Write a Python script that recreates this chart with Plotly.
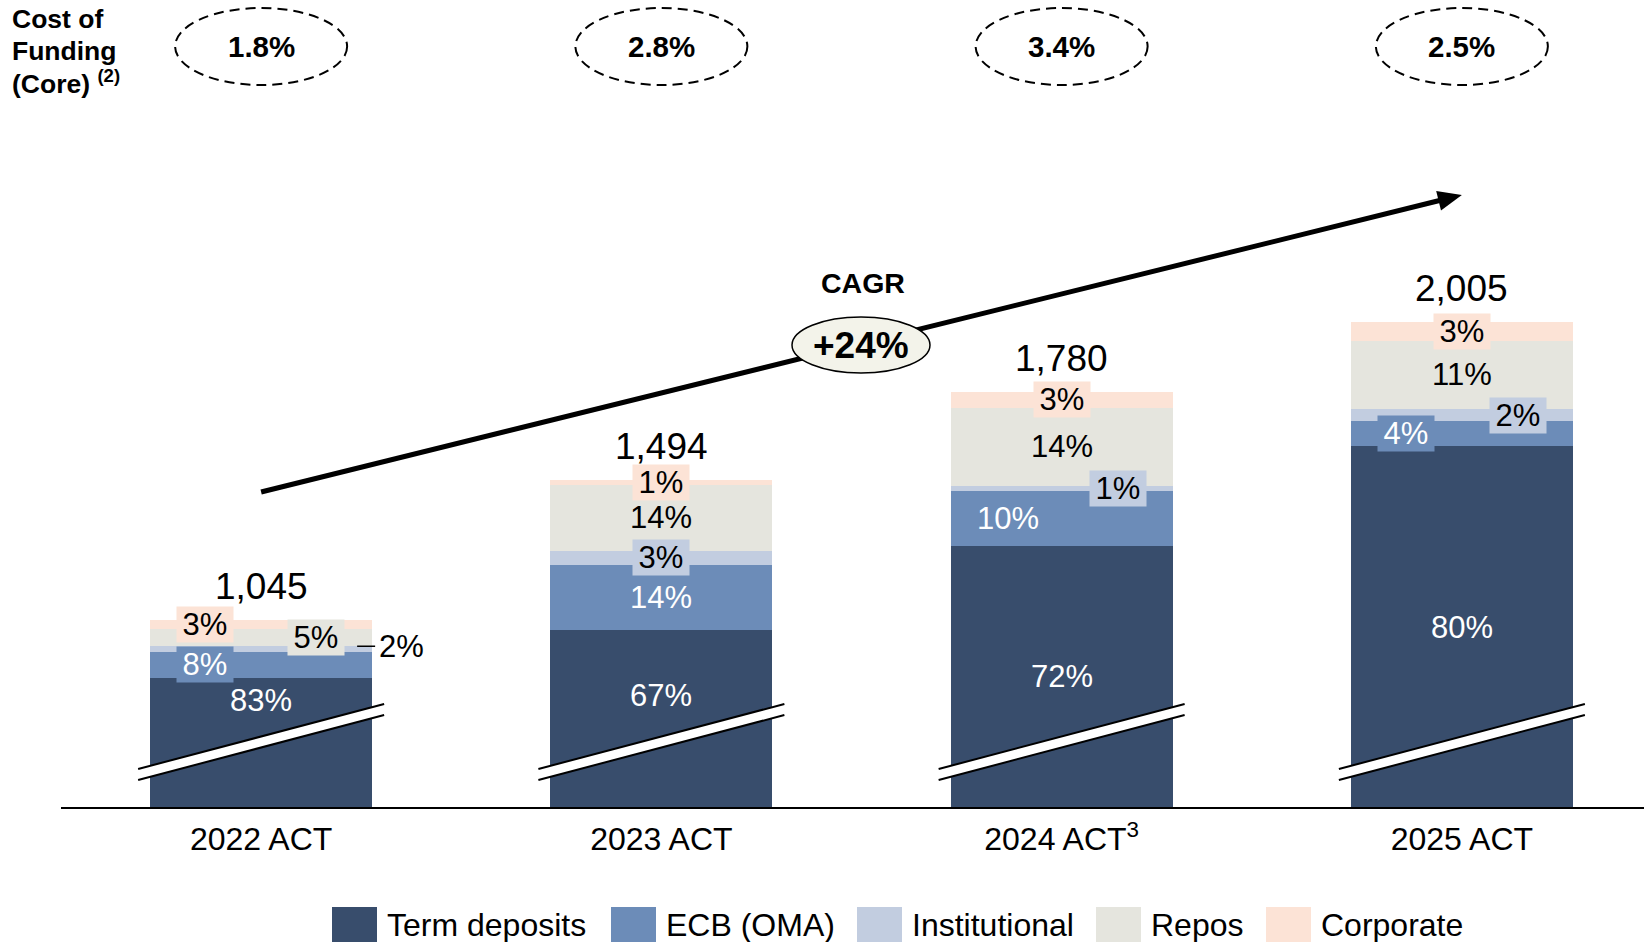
import math
import plotly.graph_objects as go

# ---------------- data ----------------
categories = ["2022 ACT", "2023 ACT", "2024 ACT<sup>3</sup>", "2025 ACT"]
totals = [1045, 1494, 1780, 2005]
series_names = ["Term deposits", "ECB (OMA)", "Institutional", "Repos", "Corporate"]
term_deposits_pct = [83, 67, 72, 80]
ecb_oma_pct = [8, 14, 10, 4]
institutional_pct = [2, 3, 1, 2]
repos_pct = [5, 14, 14, 11]
corporate_pct = [3, 1, 3, 3]
cost_of_funding = ["1.8%", "2.8%", "3.4%", "2.5%"]
cagr_text = "+24%"

# ---------------- style / layout ----------------
W, H = 1644, 942
FONT = "Liberation Sans, Arial, sans-serif"
colors = ["#384D6C", "#6C8CB8", "#C2CDE0", "#E5E5DE", "#FCE3D6"]
label_colors = ["white", "white", "black", "black", "black"]
AXIS_BREAK = 442              # broken axis: value shown at the baseline
PLOT_BOTTOM_PX = 807
PX_PER_UNIT = 0.3104
X_RANGE = [-0.5, 3.455]
X_DOM_PX = (61, W)
BAR_WIDTH = 0.555
SEG_FONT = 31

DX = (X_RANGE[1] - X_RANGE[0]) / (X_DOM_PX[1] - X_DOM_PX[0])  # data units per px


def xp(px):
    return px / W


def yp(py):
    return 1 - py / H


def cx_px(i):
    return X_DOM_PX[0] + (i - X_RANGE[0]) / DX


shares = [term_deposits_pct, ecb_oma_pct, institutional_pct, repos_pct, corporate_pct]
n = len(totals)
seg_values = []
for s in range(5):
    seg_values.append([totals[i] * shares[s][i] / sum(sh[i] for sh in shares) for i in range(n)])

fig = go.Figure()
xs = list(range(n))
for s in range(5):
    fig.add_trace(go.Bar(
        x=xs, y=seg_values[s], name=series_names[s], width=BAR_WIDTH,
        marker=dict(color=colors[s], line=dict(width=0)),
        hoverinfo="skip",
    ))

annotations = []
shapes = []

# ----- segment labels -----
label_dx = {1: [-56, 0, -54, -56], 2: [None, 0, 56, 56], 3: [55, 0, 0, 0], 4: [-56, 0, 0, 0]}
label_bg = {1: [True, False, False, True], 2: [False, True, True, True],
            3: [True, False, False, False], 4: [True, True, True, True]}
td_label_px = [700, 695, 676, 627]

for i in range(n):
    # term deposits label (above the axis break)
    annotations.append(dict(
        x=i, xref="x", y=yp(td_label_px[i]), yref="paper", text=f"{term_deposits_pct[i]}%",
        showarrow=False, xanchor="center", yanchor="middle",
        font=dict(family=FONT, size=SEG_FONT, color=label_colors[0])))
    base = seg_values[0][i]
    for s in range(1, 5):
        v = seg_values[s][i]
        mid = base + v / 2
        base += v
        txt = f"{shares[s][i]}%"
        off = label_dx[s][i]
        if off is None:
            # leader line label outside the bar
            shapes.append(dict(type="line", xref="x", yref="y",
                               x0=i + 96 * DX, x1=i + 114 * DX, y0=mid + 8, y1=mid + 8,
                               line=dict(color="black", width=1.5), layer="above"))
            annotations.append(dict(
                x=i, xref="x", y=mid + 8, yref="y", xshift=116, text=txt, showarrow=False,
                xanchor="left", yanchor="middle",
                font=dict(family=FONT, size=SEG_FONT, color="black")))
            continue
        a = dict(x=i, xref="x", y=mid, yref="y", xshift=off, text=txt, showarrow=False,
                 xanchor="center", yanchor="middle",
                 font=dict(family=FONT, size=SEG_FONT, color=label_colors[s]))
        if label_bg[s][i]:
            a.update(bgcolor=colors[s], width=56, height=35, borderpad=0)
        annotations.append(a)
    # totals
    annotations.append(dict(
        x=i, xref="x", y=totals[i], yref="y", text=f"{totals[i]:,}", showarrow=False,
        xanchor="center", yanchor="bottom", yshift=11,
        font=dict(family=FONT, size=37, color="black")))

    # axis-break marks
    xl, xr = i - 123 * DX, i + 123 * DX
    shapes.append(dict(type="path", xref="x", yref="paper",
                       path=f"M{xl},{yp(769)} L{xr},{yp(704)} L{xr},{yp(715)} L{xl},{yp(780)} Z",
                       fillcolor="white", line=dict(width=0), layer="above"))
    for (a0, a1) in [(769, 704), (780, 715)]:
        shapes.append(dict(type="line", xref="x", yref="paper", x0=xl, x1=xr,
                           y0=yp(a0), y1=yp(a1), line=dict(color="black", width=2), layer="above"))

    # cost of funding dashed ellipses
    shapes.append(dict(type="circle", xref="x", yref="paper",
                       x0=i - 86 * DX, x1=i + 86 * DX, y0=yp(85), y1=yp(8),
                       line=dict(color="black", width=2, dash="10px,6px"), layer="above"))
    annotations.append(dict(
        x=i, xref="x", y=yp(47), yref="paper", text=f"<b>{cost_of_funding[i]}</b>",
        showarrow=False, xanchor="center", yanchor="middle",
        font=dict(family=FONT, size=29.5, color="black")))

# ----- left title -----
for txt, py in [("<b>Cost of</b>", 19), ("<b>Funding</b>", 51), ("<b>(Core)</b> <b><sup>(2)</sup></b>", 82)]:
    annotations.append(dict(x=xp(10), xref="paper", y=yp(py), yref="paper", text=txt,
                            showarrow=False, xanchor="left", yanchor="middle",
                            font=dict(family=FONT, size=26.5, color="black")))

# ----- CAGR arrow -----
tip = (cx_px(3), 195.0)
tail = (cx_px(0), 492.0)
dxp, dyp = tip[0] - tail[0], tip[1] - tail[1]
L = math.hypot(dxp, dyp)
ux, uy = dxp / L, dyp / L
nx, ny = -uy, ux
head_len, head_half = 24, 10
bx, by = tip[0] - head_len * ux, tip[1] - head_len * uy
shapes.append(dict(type="line", xref="paper", yref="paper",
                   x0=xp(tail[0]), y0=yp(tail[1]), x1=xp(bx + 2 * ux), y1=yp(by + 2 * uy),
                   line=dict(color="black", width=5), layer="above"))
shapes.append(dict(type="path", xref="paper", yref="paper",
                   path=(f"M{xp(tip[0])},{yp(tip[1])} L{xp(bx + head_half * nx)},{yp(by + head_half * ny)} "
                         f"L{xp(bx - head_half * nx)},{yp(by - head_half * ny)} Z"),
                   fillcolor="black", line=dict(width=0), layer="above"))
# CAGR ellipse
shapes.append(dict(type="circle", xref="paper", yref="paper",
                   x0=xp(792), x1=xp(930), y0=yp(373), y1=yp(317),
                   fillcolor="#F3F3EA", line=dict(color="black", width=1.5), layer="above"))
annotations.append(dict(x=xp(861), xref="paper", y=yp(345), yref="paper", text=f"<b>{cagr_text}</b>",
                        showarrow=False, xanchor="center", yanchor="middle",
                        font=dict(family=FONT, size=37, color="black")))
annotations.append(dict(x=xp(863), xref="paper", y=yp(283), yref="paper", text="<b>CAGR</b>",
                        showarrow=False, xanchor="center", yanchor="middle",
                        font=dict(family=FONT, size=28.5, color="black")))

# ----- legend (large swatches) -----
legend_x = [332, 611, 857, 1096, 1266]
for s in range(5):
    shapes.append(dict(type="rect", xref="paper", yref="paper",
                       x0=xp(legend_x[s]), x1=xp(legend_x[s] + 45), y0=yp(907), y1=yp(946),
                       fillcolor=colors[s], line=dict(width=0), layer="above"))
    annotations.append(dict(x=xp(legend_x[s] + 53), xref="paper", y=yp(925), yref="paper",
                            text=series_names[s], showarrow=False, xanchor="left", yanchor="middle",
                            font=dict(family=FONT, size=32, color="black")))

fig.update_layout(
    width=W, height=H, autosize=False,
    margin=dict(l=0, r=0, t=0, b=0, pad=0),
    paper_bgcolor="white", plot_bgcolor="white",
    barmode="stack", bargap=0, showlegend=False,
    font=dict(family=FONT, color="black"),
    xaxis=dict(domain=[xp(X_DOM_PX[0]), 1], range=X_RANGE, tickmode="array",
               tickvals=xs, ticktext=categories, showgrid=False, zeroline=False,
               showline=True, linecolor="black", linewidth=2, ticks="",
               ticklabelstandoff=3,
               tickfont=dict(family=FONT, size=32, color="black"), automargin=False,
               fixedrange=True),
    yaxis=dict(domain=[yp(PLOT_BOTTOM_PX), 1],
               range=[AXIS_BREAK, AXIS_BREAK + PLOT_BOTTOM_PX / PX_PER_UNIT],
               visible=False, showgrid=False, zeroline=False, automargin=False, fixedrange=True),
    annotations=annotations,
    shapes=shapes,
)

fig.write_html("out.html")
